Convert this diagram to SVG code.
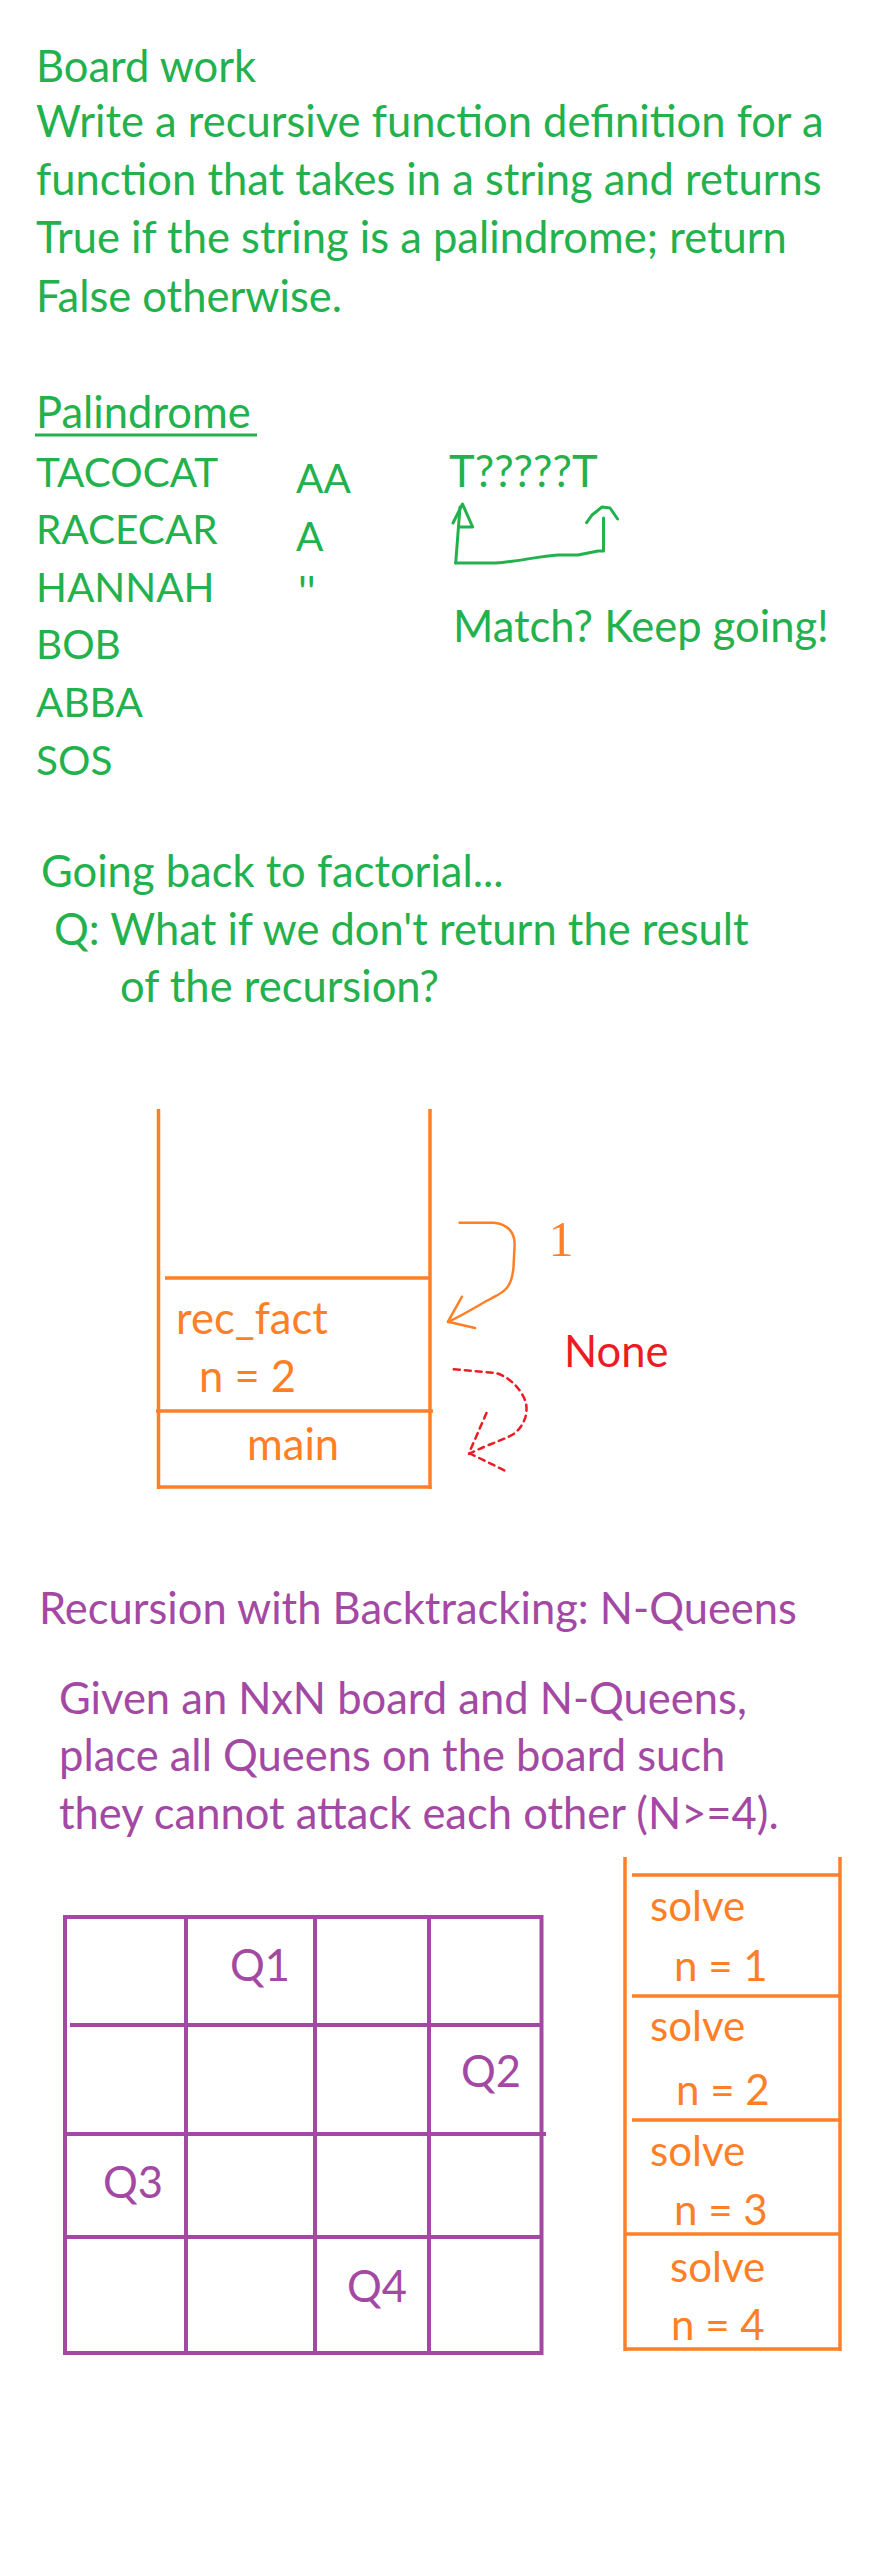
<svg xmlns="http://www.w3.org/2000/svg" width="880" height="2576" viewBox="0 0 880 2576">
<style>
text { font-family: Lato, "Liberation Sans", sans-serif; font-size: 43.5px; }
.caps { font-size: 40.5px; }
.sm { font-size: 42px; }
.g { fill: #22B14C; }
.o { fill: #FF7F27; }
.r { fill: #ED1C24; }
.p { fill: #A349A4; }
.ol { stroke: #FF7F27; stroke-width: 3.5; fill: none; }
.pl { stroke: #A349A4; stroke-width: 4; fill: none; }
.gl { stroke: #22B14C; stroke-width: 3; fill: none; stroke-linecap: round; stroke-linejoin: round; }
.oa { stroke: #FF7F27; stroke-width: 2.5; fill: none; stroke-linecap: round; stroke-linejoin: round; }
.rd { stroke: #ED1C24; stroke-width: 2.5; fill: none; stroke-dasharray: 6 5; stroke-linecap: round; }
</style>
<rect width="880" height="2576" fill="#ffffff"/>

<g id="intro" class="g">
<text x="36" y="82">Board work</text>
<text x="36" y="137">Write a recursive function definition for a</text>
<text x="36" y="195">function that takes in a string and returns</text>
<text x="36" y="253">True if the string is a palindrome; return</text>
<text x="36" y="312">False otherwise.</text>
</g>

<g id="palindromes" class="g">
<text x="36" y="428">Palindrome</text>
<line x1="35" y1="435" x2="257" y2="435" stroke="#22B14C" stroke-width="3"/>
<text class="caps" x="36" y="487">TACOCAT</text>
<text class="caps" x="36" y="544">RACECAR</text>
<text class="caps" x="36" y="602">HANNAH</text>
<text class="caps" x="36" y="659">BOB</text>
<text class="caps" x="36" y="717">ABBA</text>
<text class="caps" x="36" y="775">SOS</text>
</g>

<g id="base-cases" class="g">
<text class="caps" x="296" y="493">AA</text>
<text class="caps" x="296" y="551">A</text>
<text x="298" y="608">''</text>
</g>

<g id="compare" class="g">
<text x="449" y="487">T?????T</text>
</g>

<g id="match" class="g">
<text x="453" y="642">Match? Keep going!</text>
</g>

<g id="factorial-question" class="g">
<text x="41" y="887">Going back to factorial...</text>
<text x="54" y="945">Q: What if we don't return the result</text>
<text x="120" y="1002">of the recursion?</text>
</g>

<g id="stack-fact">
<line class="ol" x1="158.5" y1="1109" x2="158.5" y2="1489"/>
<line class="ol" x1="430" y1="1109" x2="430" y2="1489"/>
<line class="ol" x1="165" y1="1278" x2="430" y2="1278"/>
<line class="ol" x1="156" y1="1411" x2="433" y2="1411"/>
<line class="ol" x1="157" y1="1487" x2="431.5" y2="1487"/>
</g>
<g id="frame-rec-fact" class="o">
<text x="176" y="1334">rec_fact</text>
<text x="199" y="1392">n = 2</text>
</g>
<g id="frame-main" class="o">
<text x="247" y="1460">main</text>
</g>
<g id="none-label" class="r">
<text x="564" y="1367">None</text>
</g>

<g id="nqueens-text" class="p">
<text x="39" y="1624">Recursion with Backtracking: N-Queens</text>
<text x="59" y="1714">Given an NxN board and N-Queens,</text>
<text x="59" y="1771">place all Queens on the board such</text>
<text x="59" y="1829">they cannot attack each other (N&gt;=4).</text>
</g>

<g id="board">
<rect class="pl" x="65" y="1917" width="476.5" height="436"/>
<line class="pl" x1="186" y1="1915" x2="186" y2="2351"/>
<line class="pl" x1="315" y1="1917" x2="315" y2="2353"/>
<line class="pl" x1="429" y1="1917" x2="429" y2="2353"/>
<line class="pl" x1="70" y1="2025" x2="541" y2="2025"/>
<line class="pl" x1="65" y1="2134" x2="546" y2="2134"/>
<line class="pl" x1="65" y1="2237" x2="541" y2="2237"/>
</g>
<g id="queens" class="p">
<text x="230" y="1981">Q1</text>
<text x="461" y="2087">Q2</text>
<text x="103" y="2198">Q3</text>
<text x="347" y="2302">Q4</text>
</g>

<g id="stack-solve">
<line class="ol" x1="625" y1="1857" x2="625" y2="2351"/>
<line class="ol" x1="840" y1="1857" x2="840" y2="2351"/>
<line class="ol" x1="632" y1="1875" x2="839" y2="1875"/>
<line class="ol" x1="632" y1="1996" x2="839" y2="1996"/>
<line class="ol" x1="632" y1="2120" x2="839" y2="2120"/>
<line class="ol" x1="625" y1="2234" x2="840" y2="2234"/>
<line class="ol" x1="625" y1="2349" x2="840" y2="2349"/>
</g>
<g id="frame-solve-1" class="o sm">
<text class="sm" x="650" y="1921">solve</text>
<text class="sm" x="674" y="1981">n = 1</text>
</g>
<g id="frame-solve-2" class="o">
<text class="sm" x="650" y="2041">solve</text>
<text class="sm" x="676" y="2105">n = 2</text>
</g>
<g id="frame-solve-3" class="o">
<text class="sm" x="650" y="2166">solve</text>
<text class="sm" x="674" y="2225">n = 3</text>
</g>
<g id="frame-solve-4" class="o">
<text class="sm" x="670" y="2282">solve</text>
<text class="sm" x="671" y="2340">n = 4</text>
</g>

<g id="connectors">
<path class="gl" d="M455.7,563 L460,507"/>
<path class="gl" d="M453,523 L462.5,504 L472.6,527 L459.7,527"/>
<path class="gl" d="M455.7,563 L496,563 C515,562 540,556 558,555 L578,555 L598,551 L603.5,551 L603.5,518"/>
<path class="gl" d="M586.6,522.7 L592,515 L602,507 L610,508 L617.6,519"/>
<path class="oa" d="M459.6,1222.7 L494,1222.7 C507,1224 515,1232 514.6,1245 L513.5,1267 C512,1285 507,1291 492,1298 C482,1303 469,1312 448,1322"/>
<path class="oa" d="M462,1296.7 L448,1321.7 L475,1328"/>
<text class="o" x="561" y="1256" text-anchor="middle" style="font-family:'Liberation Serif',serif;font-size:50px">1</text>
<path class="rd" d="M453.8,1369.3 L496,1373 C510,1377 522,1390 526,1403 C528,1415 524,1425 515,1433 C505,1440 490,1443 469,1454"/>
<path class="rd" d="M486.5,1413 L469,1453 L507.7,1472"/>
</g>
</svg>
